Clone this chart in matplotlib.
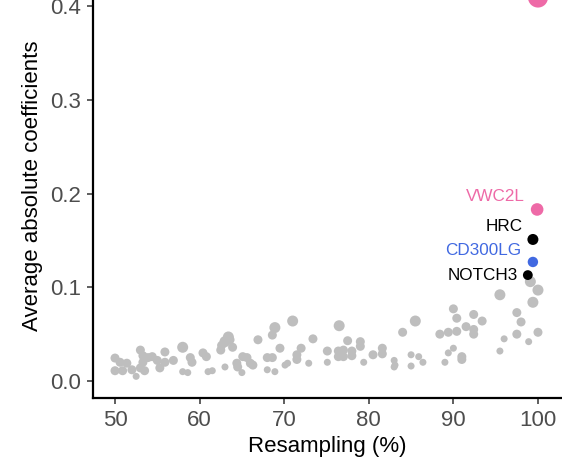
import numpy as np
import matplotlib.pyplot as plt

plt.rcParams['font.family'] = ['Liberation Sans', 'DejaVu Sans']

# background genes: resampling (%), average absolute coefficient, dot weight
resampling = [50.0, 50.6, 51.4, 50.0, 50.9, 52.0, 52.5, 53.0, 53.3, 53.3,
              53.9, 54.4, 55.0, 55.3, 53.0, 53.5, 55.9, 55.9, 56.9, 58.0,
              58.9, 59.1, 58.0, 58.6, 60.4, 60.8, 61.0, 61.5, 62.5, 62.6,
              63.0, 63.4, 63.6, 63.9, 63.0, 64.4, 64.5, 65.0, 65.1, 65.6,
              66.0, 66.3, 66.9, 68.0, 68.6, 68.0, 68.9, 68.6, 68.9, 69.5,
              70.1, 71.0, 70.4, 71.5, 71.5, 72.0, 72.9, 73.4, 75.1, 75.1,
              76.5, 76.4, 77.0, 76.4, 77.0, 77.5, 78.0, 78.0, 79.0, 79.0,
              79.4, 80.5, 81.6, 81.6, 83.0, 83.1, 83.0, 84.0, 85.0, 85.0,
              85.5, 85.9, 86.4, 89.0, 89.4, 90.0, 91.0, 91.0, 88.4, 89.4,
              90.4, 91.5, 92.4, 92.4, 90.0, 90.4, 92.4, 93.4, 95.5, 95.5,
              96.0, 97.5, 98.0, 97.5, 99.1, 100.0, 99.4, 98.9, 100.0]
avg_coef = [0.0245, 0.020, 0.019, 0.011, 0.011, 0.012, 0.005, 0.033, 0.027, 0.020,
            0.025, 0.026, 0.022, 0.014, 0.014, 0.011, 0.031, 0.020, 0.022, 0.036,
            0.025, 0.020, 0.010, 0.009, 0.030, 0.026, 0.010, 0.011, 0.033, 0.038,
            0.042, 0.047, 0.044, 0.036, 0.015, 0.019, 0.015, 0.009, 0.026, 0.025,
            0.019, 0.017, 0.044, 0.025, 0.025, 0.012, 0.010, 0.049, 0.057, 0.035,
            0.017, 0.064, 0.019, 0.028, 0.023, 0.035, 0.019, 0.045, 0.032, 0.020,
            0.059, 0.032, 0.033, 0.026, 0.026, 0.043, 0.032, 0.027, 0.042, 0.037,
            0.020, 0.028, 0.035, 0.029, 0.022, 0.017, 0.015, 0.052, 0.028, 0.016,
            0.064, 0.026, 0.020, 0.020, 0.030, 0.035, 0.026, 0.023, 0.050, 0.052,
            0.053, 0.058, 0.055, 0.050, 0.077, 0.067, 0.071, 0.064, 0.092, 0.032,
            0.045, 0.073, 0.063, 0.050, 0.106, 0.097, 0.084, 0.042, 0.052]
weight = [2, 2, 2, 2, 2, 2, 1, 2, 2, 2,
          2, 2, 2, 2, 2, 2, 2, 2, 2, 3,
          2, 2, 1, 1, 2, 2, 1, 1, 2, 2,
          3, 3, 2, 2, 1, 2, 2, 1, 2, 2,
          2, 2, 2, 2, 2, 1, 1, 2, 3, 2,
          1, 3, 1, 2, 2, 2, 1, 2, 2, 1,
          3, 2, 2, 2, 2, 2, 2, 2, 2, 2,
          1, 2, 2, 2, 1, 1, 1, 2, 1, 1,
          3, 1, 1, 1, 1, 1, 2, 2, 2, 2,
          2, 2, 2, 2, 2, 2, 2, 2, 3, 1,
          1, 2, 2, 2, 3, 3, 3, 1, 2]

# highlighted genes
hl_genes = ['', 'VWC2L', 'HRC', 'CD300LG', 'NOTCH3']
hl_resampling = [100.0, 99.9, 99.4, 99.4, 98.8]
hl_coef = [0.409, 0.183, 0.151, 0.127, 0.113]
hl_weight = [7.5, 3.8, 3, 2.7, 2.4]
hl_colors = ['#EE6AA7', '#EE6AA7', '#000000', '#4169E1', '#000000']
label_offset = [(0, 0), (-9, 9), (-7.5, 9), (-8.5, 8), (-7, 0)]


def dot_area(w):
    d_px = 5 + 2 * np.asarray(w, dtype=float)
    return (d_px * 72 / 100) ** 2


fig = plt.figure(figsize=(5.62, 4.58), dpi=100)
ax = fig.add_axes([0.1655, 0.131, 0.8345, 0.869])

ax.scatter(resampling, avg_coef, s=dot_area(weight), color='#BEBEBE',
           linewidths=0, zorder=2)
ax.scatter(hl_resampling, hl_coef, s=dot_area(hl_weight), c=hl_colors,
           linewidths=0, zorder=3)

for g, x, y, c, off in zip(hl_genes, hl_resampling, hl_coef, hl_colors, label_offset):
    if g:
        ax.annotate(g, (x, y), xytext=off, textcoords='offset points',
                    ha='right', va='center', fontsize=12.3, color=c, zorder=4)

ax.set_xlim(47.4, 102.84)
ax.set_ylim(-0.0181, 0.4064)
ax.set_xticks([50, 60, 70, 80, 90, 100])
ax.set_yticks([0.0, 0.1, 0.2, 0.3, 0.4])
ax.set_yticklabels(['0.0', '0.1', '0.2', '0.3', '0.4'])

ax.spines['top'].set_visible(False)
ax.spines['right'].set_visible(False)
for s in ['left', 'bottom']:
    ax.spines[s].set_linewidth(1.6)
ax.tick_params(axis='both', colors='#333333', labelcolor='#4D4D4D',
               labelsize=16, length=4, width=1.1, pad=4.5)

ax.set_xlabel('Resampling (%)', fontsize=16, labelpad=4)
ax.set_ylabel('Average absolute coefficients', fontsize=16)
ax.yaxis.set_label_coords(-0.106, 0.533)

fig.savefig('out.png', dpi=100)
